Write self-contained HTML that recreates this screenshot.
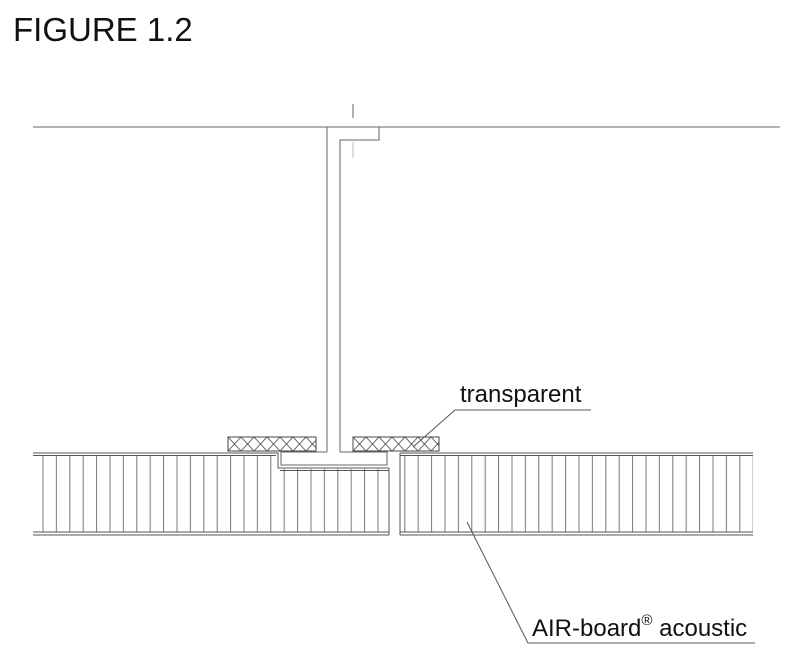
<!DOCTYPE html>
<html><head><meta charset="utf-8"><style>
html,body{margin:0;padding:0;background:#fff;}
svg{display:block}
text{font-family:"Liberation Sans",Arial,sans-serif;fill:#111}
</style></head><body>
<svg width="796" height="665" viewBox="0 0 796 665" xmlns="http://www.w3.org/2000/svg">
<defs>
<pattern id="vl" x="33" y="0" width="13.4" height="10" patternUnits="userSpaceOnUse">
<line x1="10" y1="0" x2="10" y2="10" stroke="#777" stroke-width="1"/>
</pattern>
<pattern id="xx" x="228" y="437" width="13" height="14" patternUnits="userSpaceOnUse">
<path d="M0 0 L13 14 M13 0 L0 14" stroke="#555" stroke-width="0.9" fill="none"/>
</pattern>
<pattern id="xx2" x="353" y="437" width="13" height="14" patternUnits="userSpaceOnUse">
<path d="M0 0 L13 14 M13 0 L0 14" stroke="#555" stroke-width="0.9" fill="none"/>
</pattern>
</defs>
<text x="13" y="41" font-size="33">FIGURE 1.2</text>

<g stroke="#666" stroke-width="1" fill="none">
<line x1="33" y1="127" x2="780" y2="127"/>
<line x1="353" y1="104" x2="353" y2="118"/>
<line x1="353" y1="142" x2="353" y2="158" stroke="#bbb"/>
<path d="M327 452 L327 127 L379 127 L379 140 L340 140 L340 452"/>
<path d="M327 452 L281 452 L281 465 L387 465 L387 452 L340 452"/>
</g>

<rect x="228" y="437" width="88" height="14" fill="url(#xx)" stroke="#444"/>
<rect x="353" y="437" width="86" height="14" fill="url(#xx2)" stroke="#444"/>

<g stroke="#555" stroke-width="1">
<rect x="33" y="456" width="245" height="76" fill="url(#vl)" stroke="none"/>
<rect x="278" y="469" width="109" height="63" fill="url(#vl)" stroke="none"/>
<rect x="400" y="456" width="353" height="76" fill="url(#vl)" stroke="none"/>
<path d="M33 453 L278 453 L278 468 L389 468 M33 455.5 L276 455.5 M280 470.5 L389 470.5" fill="none"/>
<path d="M33 532 L389 532 M33 535 L389 535" fill="none"/>
<line x1="389" y1="468" x2="389" y2="535"/>
<line x1="400" y1="453" x2="400" y2="535"/>
<path d="M400 453 L753 453 M400 455.5 L753 455.5 M400 532 L753 532 M400 535 L753 535" fill="none"/>
</g>

<g stroke="#555" stroke-width="1" fill="none">
<path d="M413 447 L455 410 L591 410"/>
<path d="M467 522 L528 643 L755 643"/>
</g>
<text x="460" y="402" font-size="24">transparent</text>
<text x="532" y="636" font-size="24">AIR-board<tspan font-size="15" dy="-11">®</tspan><tspan dy="11"> acoustic</tspan></text>
</svg>
</body></html>
